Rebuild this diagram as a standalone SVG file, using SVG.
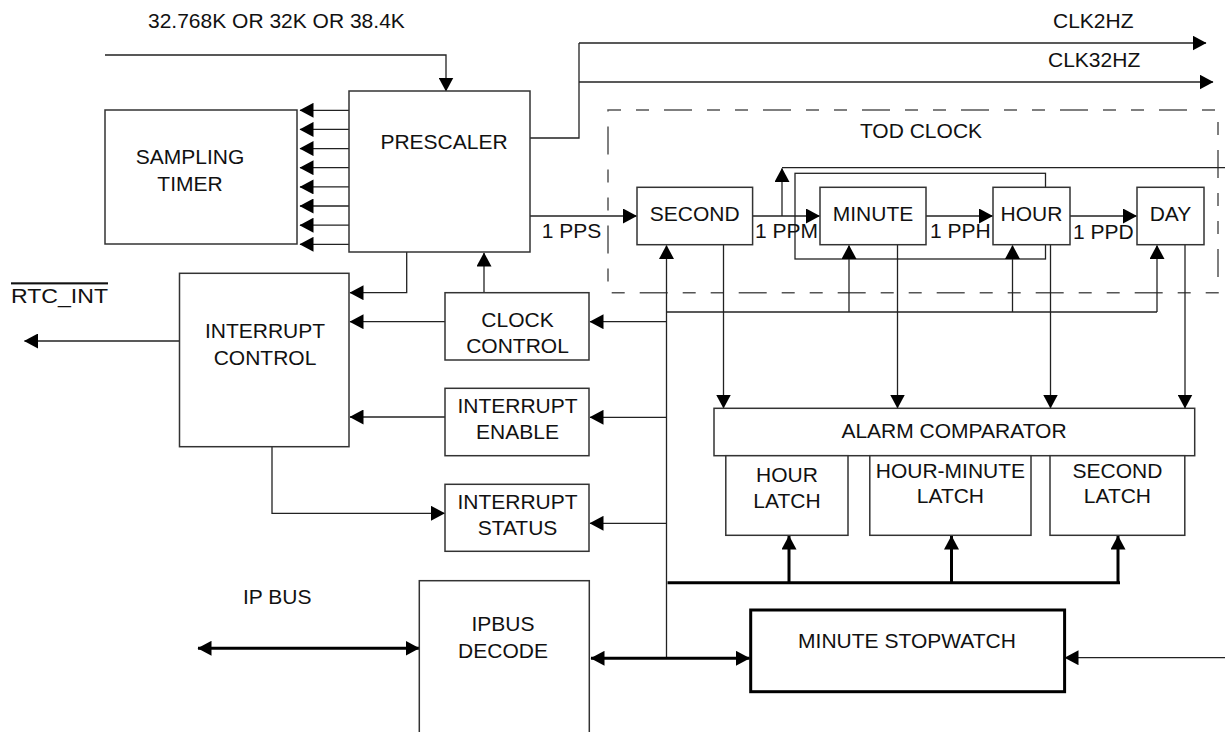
<svg xmlns="http://www.w3.org/2000/svg" width="1225" height="732" viewBox="0 0 1225 732">
<style>
text{font-family:"Liberation Sans",Arial,sans-serif;font-size:21px;fill:#111;}
.c{text-anchor:middle;}
.box{fill:#fff;stroke:#333;stroke-width:1.5;}
.thickbox{fill:#fff;stroke:#000;stroke-width:3;}
.ln{fill:none;stroke:#222;stroke-width:1.3;}
.arr{fill:none;stroke:#222;stroke-width:1.3;marker-end:url(#ah);}
.tk{fill:none;stroke:#000;stroke-width:3;}
.tka{fill:none;stroke:#000;stroke-width:3;marker-end:url(#ah);}
.tkd{fill:none;stroke:#000;stroke-width:3;marker-end:url(#ah);marker-start:url(#ah);}
.dash{fill:none;stroke:#555;stroke-width:1.5;stroke-dasharray:13 15 13 15 28 15;}
</style>
<defs>
<marker id="ah" markerUnits="userSpaceOnUse" markerWidth="15" markerHeight="15" refX="13.5" refY="7.5" orient="auto-start-reverse" viewBox="0 0 15 15">
<path d="M0,0 L14,7.5 L0,15 z" fill="#000"/>
</marker>
</defs>

<g id="tod-clock">
<rect class="dash" x="608" y="110" width="610" height="182.7"/>
<text class="c" x="921" y="138">TOD CLOCK</text>
</g>

<g id="connectors">
<polyline class="arr" points="105,55 446,55 446,91"/>
<polyline class="ln" points="530,138 579,138 579,43"/>
<line class="arr" x1="579" y1="43" x2="1206" y2="43"/>
<line class="arr" x1="579" y1="82" x2="1213" y2="82"/>
<line class="arr" x1="349" y1="110.3" x2="300" y2="110.3"/>
<line class="arr" x1="349" y1="129.4" x2="300" y2="129.4"/>
<line class="arr" x1="349" y1="148.6" x2="300" y2="148.6"/>
<line class="arr" x1="349" y1="167.7" x2="300" y2="167.7"/>
<line class="arr" x1="349" y1="186.9" x2="300" y2="186.9"/>
<line class="arr" x1="349" y1="206" x2="300" y2="206"/>
<line class="arr" x1="349" y1="225.2" x2="300" y2="225.2"/>
<line class="arr" x1="349" y1="244.3" x2="300" y2="244.3"/>
<polyline class="arr" points="406.7,252 406.7,292.7 350,292.7"/>
<line class="arr" x1="484" y1="292.7" x2="484" y2="253"/>
<line class="arr" x1="445" y1="321.7" x2="350" y2="321.7"/>
<line class="arr" x1="445" y1="417" x2="350" y2="417"/>
<polyline class="arr" points="272,446.7 272,513.3 444.5,513.3"/>
<line class="arr" x1="179.5" y1="341" x2="24.5" y2="341"/>
<line class="arr" x1="530" y1="216" x2="636.5" y2="216"/>
<line class="arr" x1="752.6" y1="216" x2="819.5" y2="216"/>
<line class="arr" x1="926" y1="216" x2="992.5" y2="216"/>
<line class="arr" x1="1070" y1="216" x2="1136.5" y2="216"/>
<rect class="ln" x="795" y="173.3" width="250.5" height="85.7"/>
<line class="arr" x1="782" y1="216" x2="782" y2="168.5"/>
<line class="ln" x1="782" y1="167.7" x2="1225" y2="167.7"/>
<line class="arr" x1="666.5" y1="658.3" x2="666.5" y2="245.5"/>
<polyline class="ln" points="666.5,312 1157,312"/>
<line class="arr" x1="849" y1="312" x2="849" y2="245.5"/>
<line class="arr" x1="1012.5" y1="312" x2="1012.5" y2="245.5"/>
<line class="arr" x1="1157" y1="312" x2="1157" y2="245.5"/>
<line class="arr" x1="666.5" y1="321.7" x2="590" y2="321.7"/>
<line class="arr" x1="666.5" y1="417.3" x2="590" y2="417.3"/>
<line class="arr" x1="666.5" y1="523.3" x2="590" y2="523.3"/>
<line class="arr" x1="723.5" y1="244.7" x2="723.5" y2="408"/>
<line class="arr" x1="897.5" y1="244.7" x2="897.5" y2="408"/>
<line class="arr" x1="1050.5" y1="244.7" x2="1050.5" y2="408"/>
<line class="arr" x1="1185" y1="244.7" x2="1185" y2="408"/>
<line class="tk" x1="667.5" y1="582.7" x2="1120" y2="582.7"/>
<line class="tka" x1="789" y1="582.7" x2="789" y2="536"/>
<line class="tka" x1="951.5" y1="582.7" x2="951.5" y2="536"/>
<line class="tka" x1="1118" y1="582.7" x2="1118" y2="536"/>
<line class="tkd" x1="591" y1="658.3" x2="749.5" y2="658.3"/>
<line class="tkd" x1="198" y1="648.3" x2="419" y2="648.3"/>
<line class="arr" x1="1225" y1="657.7" x2="1065" y2="657.7"/>
</g>

<g id="prescaler">
<rect class="box" x="349" y="91" width="181" height="161"/>
<text class="c" x="444" y="149">PRESCALER</text>
</g>
<g id="sampling-timer">
<rect class="box" x="105" y="110" width="192" height="134"/>
<text class="c" x="190" y="163.5">SAMPLING</text>
<text class="c" x="190" y="190.5">TIMER</text>
</g>
<g id="interrupt-control">
<rect class="box" x="179.5" y="273.3" width="169.5" height="173.4"/>
<text class="c" x="265" y="338">INTERRUPT</text>
<text class="c" x="265" y="365">CONTROL</text>
</g>
<g id="rtc-int">
<text x="11" y="303.3" textLength="97" lengthAdjust="spacingAndGlyphs" style="text-decoration:overline">RTC_INT</text>
</g>
<g id="clock-control">
<rect class="box" x="445" y="292.7" width="144" height="67.3"/>
<text class="c" x="517.5" y="326.7">CLOCK</text>
<text class="c" x="517.5" y="353">CONTROL</text>
</g>
<g id="interrupt-enable">
<rect class="box" x="445" y="388.3" width="144" height="67.4"/>
<text class="c" x="517.5" y="412.7">INTERRUPT</text>
<text class="c" x="517.5" y="438.5">ENABLE</text>
</g>
<g id="interrupt-status">
<rect class="box" x="445" y="484.3" width="144" height="67"/>
<text class="c" x="517.5" y="509">INTERRUPT</text>
<text class="c" x="517.5" y="535">STATUS</text>
</g>
<g id="ipbus-decode">
<rect class="box" x="419.3" y="580.7" width="170" height="170"/>
<text class="c" x="503" y="631">IPBUS</text>
<text class="c" x="503" y="657.7">DECODE</text>
</g>
<g id="ip-bus-label">
<text x="243" y="604.3">IP BUS</text>
</g>
<g id="clock-input-label">
<text x="148" y="28.3">32.768K OR 32K OR 38.4K</text>
</g>
<g id="clk2hz-label">
<text x="1053" y="28.3">CLK2HZ</text>
</g>
<g id="clk32hz-label">
<text x="1048" y="66.7">CLK32HZ</text>
</g>
<g id="rate-labels">
<text x="541.7" y="238">1 PPS</text>
<text x="755" y="238">1 PPM</text>
<text x="930" y="238">1 PPH</text>
<text x="1073" y="239">1 PPD</text>
</g>
<g id="second">
<rect class="box" x="637" y="187.3" width="115.6" height="57.4"/>
<text class="c" x="694.8" y="221">SECOND</text>
</g>
<g id="minute">
<rect class="box" x="820" y="187.3" width="106" height="57.4"/>
<text class="c" x="873" y="221">MINUTE</text>
</g>
<g id="hour">
<rect class="box" x="993" y="187.3" width="77" height="57.4"/>
<text class="c" x="1031.5" y="221">HOUR</text>
</g>
<g id="day">
<rect class="box" x="1137" y="187.3" width="67" height="57.4"/>
<text class="c" x="1170.5" y="221">DAY</text>
</g>
<g id="alarm-comparator">
<rect class="box" x="714" y="408.3" width="480.7" height="47.4"/>
<text class="c" x="954" y="437.7">ALARM COMPARATOR</text>
</g>
<g id="hour-latch">
<rect class="box" x="725.8" y="455.7" width="122.2" height="79.6"/>
<text class="c" x="787" y="481.7">HOUR</text>
<text class="c" x="787" y="508.3">LATCH</text>
</g>
<g id="hour-minute-latch">
<rect class="box" x="869.8" y="455.7" width="161.2" height="79.6"/>
<text class="c" x="950.4" y="477.7">HOUR-MINUTE</text>
<text class="c" x="950.4" y="503.3">LATCH</text>
</g>
<g id="second-latch">
<rect class="box" x="1050" y="455.7" width="134.8" height="79.6"/>
<text class="c" x="1117.4" y="477.7">SECOND</text>
<text class="c" x="1117.4" y="503.3">LATCH</text>
</g>
<g id="minute-stopwatch">
<rect class="thickbox" x="750.7" y="610" width="313.9" height="81.7"/>
<text class="c" x="907" y="647.7">MINUTE STOPWATCH</text>
</g>
</svg>
